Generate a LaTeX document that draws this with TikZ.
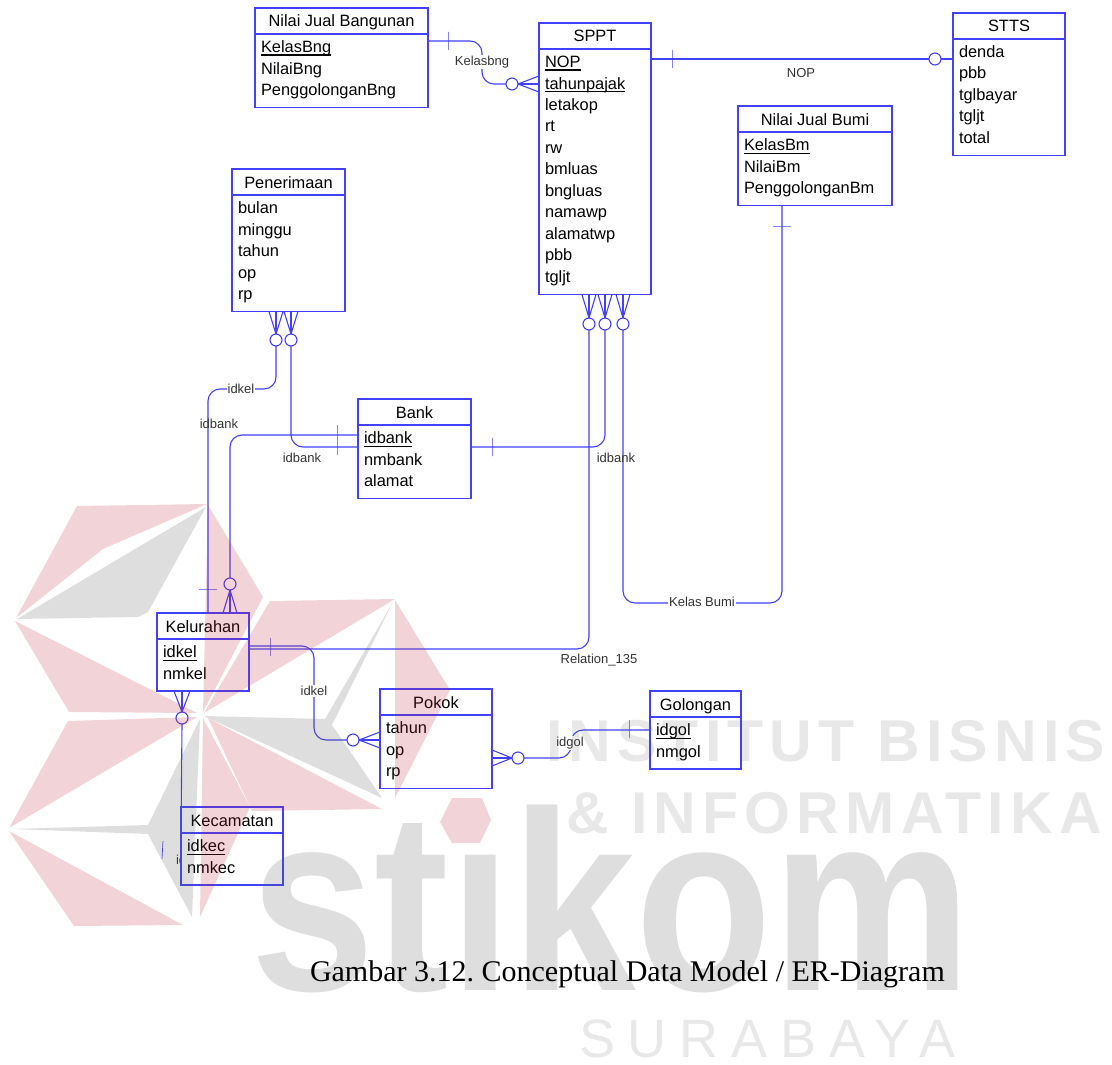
\documentclass[tikz,border=0pt]{standalone}
\usepackage{fontspec}
\setmainfont{Liberation Sans}
\newfontfamily\capfont{Liberation Serif}
\newfontfamily\wmbold[LetterSpace=10.5]{Liberation Sans Bold}
\newfontfamily\wmthin[LetterSpace=24]{Liberation Sans}
\newfontfamily\wmlogo{Liberation Sans Bold}
\newcommand{\keyattr}[1]{\leavevmode\setbox0=\hbox{#1}\rlap{\rule[-3.4pt]{\wd0}{1.4pt}}\box0 }
\usetikzlibrary{positioning}
\definecolor{erblue}{RGB}{65,65,250}
\definecolor{wmred}{RGB}{190,40,60}
\definecolor{wmgray}{RGB}{90,90,90}

\begin{document}
\begin{tikzpicture}[x=1pt, y=-1pt,
  every node/.style={font=\fontsize{16.4}{21.5}\selectfont, outer sep=0pt},
  ent/.style={draw=erblue, fill=white, line width=1.1pt, rectangle, anchor=north west,
              align=left, inner xsep=6pt, inner ysep=4pt,
              execute at begin node={\rule{0pt}{14.5pt}},
              execute at end node={\rule[-8pt]{0pt}{8pt}}},
  enthead/.style={draw=erblue, fill=white, line width=1.1pt, rectangle, minimum height=26pt,
                  inner sep=0pt, text height=13.5pt, text depth=1.5pt},
  rel/.style={draw=erblue, line width=1.1pt, rounded corners=12pt},
  crowf/.style={draw=erblue, line width=1.1pt},
  opt/.style={draw=erblue, fill=white, line width=1.1pt, circle, minimum size=12pt, inner sep=0pt},
  tickv/.style={draw=erblue, line width=.7pt, minimum width=0pt, minimum height=18pt, inner sep=0pt},
  tickh/.style={draw=erblue, line width=.7pt, minimum width=18pt, minimum height=0pt, inner sep=0pt},
  lab/.style={font=\fontsize{13}{15}\selectfont, text=black!80, inner sep=1pt},
  labw/.style={lab, fill=white}]
\useasboundingbox (0,0) rectangle (1112,1065);

%% --- Relationship markers ---
\node[opt] (OJB)  at (512,84)  {};
\node[opt] (OST)  at (935,59)  {};
\node[opt] (OKL)  at (589,324) {};
\node[opt] (OBK)  at (605,324) {};
\node[opt] (OBM)  at (623,324) {};
\node[opt] (OPK)  at (276,340) {};
\node[opt] (OPB)  at (291,340) {};
\node[opt] (OKB)  at (230,584) {};
\node[opt] (OKK)  at (182,718) {};
\node[opt] (OPO)  at (353,740) {};
\node[opt] (OGO)  at (518,758) {};

%% --- Entities ---
\node[ent, text width=161pt] (NJBG) at (255,34) {\keyattr{KelasBng}\\NilaiBng\\PenggolonganBng};
\node[enthead, minimum width=173pt, above=0pt of NJBG] (NJBGt) {Nilai Jual Bangunan};
\node[ent, text width=100pt] (SPPT) at (539,49) {\keyattr{NOP}\\\keyattr{tahunpajak}\\letakop\\rt\\rw\\bmluas\\bngluas\\namawp\\alamatwp\\pbb\\tgljt};
\node[enthead, minimum width=112pt, above=0pt of SPPT] (SPPTt) {SPPT};
\node[ent, text width=100pt] (STTS) at (953,39) {denda\\pbb\\tglbayar\\tgljt\\total};
\node[enthead, minimum width=112pt, above=0pt of STTS] (STTSt) {STTS};
\node[ent, text width=142pt] (NJBM) at (738,132) {\keyattr{KelasBm}\\NilaiBm\\PenggolonganBm};
\node[enthead, minimum width=154pt, above=0pt of NJBM] (NJBMt) {Nilai Jual Bumi};
\node[ent, text width=101pt] (PENR) at (232,195) {bulan\\minggu\\tahun\\op\\rp};
\node[enthead, minimum width=113pt, above=0pt of PENR] (PENRt) {Penerimaan};
\node[ent, text width=101pt] (BANK) at (358,425) {\keyattr{idbank}\\nmbank\\alamat};
\node[enthead, minimum width=113pt, above=0pt of BANK] (BANKt) {Bank};
\node[ent, text width=80pt] (KELR) at (157,639) {\keyattr{idkel}\\nmkel};
\node[enthead, minimum width=92pt, above=0pt of KELR] (KELRt) {Kelurahan};
\node[ent, text width=100pt] (POKK) at (380,715) {tahun\\op\\rp};
\node[enthead, minimum width=112pt, above=0pt of POKK] (POKKt) {Pokok};
\node[ent, text width=79pt] (GOLN) at (650,717) {\keyattr{idgol}\\nmgol};
\node[enthead, minimum width=91pt, above=0pt of GOLN] (GOLNt) {Golongan};

%% --- Arrows: top row ---
\draw[rel] (NJBG.east |- 0,41) -- (482,41) -- (482,84) -- (OJB.west);
\foreach \d in {-8,0,8} \draw[crowf] (OJB.east) -- (SPPT.west |- 0,84+\d);
\draw[rel] (SPPT.east |- 0,59) -- (OST.west);
\draw[crowf] (OST.east) -- (STTS.west |- 0,59);
\node[tickv] (TJB) at (448,41)  {};
\node[tickv] (TSP) at (672,59)  {};
\node[labw]  (LJB) at (482,62)  {Kelasbng};
\node[lab]   (LST) at (801,73)  {NOP};

%% --- Arrows: from SPPT down ---
\foreach \d in {-7,0,7} {
  \draw[crowf] (OKL.north) -- (SPPT.south -| 589+\d,0);
  \draw[crowf] (OBK.north) -- (SPPT.south -| 605+\d,0);
  \draw[crowf] (OBM.north) -- (SPPT.south -| 623+\d,0);
}
\draw[rel] (NJBM.south -| 782,0) -- (782,603) -- (OBM.south |- 0,603) -- (OBM.south);
\draw[rel] (BANK.east |- 0,447) -- (OBK.south |- 0,447) -- (OBK.south);
\draw[rel] (KELR.east |- 0,649) -- (OKL.south |- 0,649) -- (OKL.south);
\node[tickh] (TBM) at (782,226) {};
\node[tickv] (TBK) at (492,447) {};
\node[labw]  (LBM) at (702,602) {Kelas Bumi};
\node[lab]   (LBK) at (616,458) {idbank};
\node[lab]   (LRL) at (599,660) {Relation\_135};

%% --- Arrows: Penerimaan, Bank, Kelurahan ---
\foreach \d in {-7,0,7} {
  \draw[crowf] (OPK.north) -- (PENR.south -| 276+\d,0);
  \draw[crowf] (OPB.north) -- (PENR.south -| 291+\d,0);
  \draw[crowf] (OKB.south) -- (KELRt.north -| 230+\d,0);
}
\draw[rel] (OPK.south) -- (OPK.south |- 0,389) -- (208,389) -- (KELRt.north -| 208,0);
\draw[rel] (OPB.south) -- (OPB.south |- 0,447) -- (BANK.west |- 0,447);
\draw[rel] (BANK.west |- 0,435) -- (230,435) -- (OKB.north);
\node[tickh] (TKL) at (208,589) {};
\node[tickv, minimum height=30pt] (TBN) at (337,440) {};
\node[labw]  (LPK) at (241,389) {idkel};
\node[lab]   (LPB) at (219,424) {idbank};
\node[lab]   (LPN) at (302,458) {idbank};

%% --- Arrows: Kelurahan, Pokok, Golongan, Kecamatan ---
\foreach \d in {-8,0,8} {
  \draw[crowf] (OKK.north) -- (KELR.south -| 182+\d,0);
  \draw[crowf] (OPO.east) -- (POKK.west |- 0,740+\d);
  \draw[crowf] (OGO.west) -- (POKK.east |- 0,758+\d);
}
\draw[rel] (KELR.east |- 0,646) -- (314,646) -- (314,740) -- (OPO.west);
\draw[rel] (OGO.east) -- (571,758) -- (571,730) -- (GOLN.west |- 0,730);
\draw[crowf] (OKK.south) -- (181,842);
\node[tickv] (TKE) at (270,647) {};
\node[tickv] (TGO) at (629,729) {};
\node[tickv, rotate=-3] (TKC) at (162.5,850) {};
\node[labw]  (LKP) at (314,691) {idkel};
\node[labw]  (LGO) at (570,743) {idgol};
\node[lab, anchor=west] (LKC) at (175,860) {idkec};
\node[ent, text width=90pt] (KECM) at (181,833) {\keyattr{idkec}\\nmkec};
\node[enthead, minimum width=102pt, above=0pt of KECM] (KECMt) {Kecamatan};

%% --- Watermark ---
\begin{scope}[fill opacity=.2, text opacity=.14]
  \fill[wmred]  (77,506) -- (207,504) -- (103,549) -- (16,618) -- cycle;
  \fill[wmred]  (15,621) -- (69,712) -- (197,713) -- cycle;
  \fill[wmred]  (208,505) -- (263,597) -- (203,712) -- cycle;
  \fill[wmred]  (270,601) -- (395,599) -- (204,713) -- cycle;
  \fill[wmred]  (395,600) -- (450,690) -- (395,798) -- cycle;
  \fill[wmred]  (208,718) -- (382,809) -- (252,811) -- cycle;
  \fill[wmred]  (203,718) -- (250,807) -- (200,917) -- cycle;
  \fill[wmred]  (197,717) -- (68,721) -- (9,828) -- cycle;
  \fill[wmred]  (9,831) -- (183,925) -- (74,926) -- cycle;
  \fill[wmred]  (452,798) -- (482,798) -- (491,820) -- (480,843) -- (452,843) -- (440,822) -- cycle;
  \fill[wmgray] (17,619) -- (206,507) -- (148,612) -- (138,617) -- cycle;
  \fill[wmgray] (204,716) -- (325,719) -- (393,602) -- (332,725) -- (382,798) -- cycle;
  \fill[wmgray] (200,719) -- (148,825) -- (12,829) -- (148,834) -- (192,917) -- cycle;
  \node[text=wmgray, text opacity=.2, font=\fontsize{256}{256}\wmlogo, anchor=base west,
        xscale=.875, transform shape, inner sep=0pt] (WLOGO) at (250,990) {stıkom};
  \node[text=wmgray, font=\fontsize{59}{60}\wmbold, anchor=base west, inner sep=0pt] (WINST) at (546,761) {INSTITUT BISNIS};
  \node[text=wmgray, font=\fontsize{59}{60}\wmbold, anchor=base west, inner sep=0pt] (WINFO) at (566,833) {\& INFORMATIKA};
  \node[text=wmgray, font=\fontsize{54}{56}\wmthin, anchor=base west, inner sep=0pt, text depth=0pt] (WSURB) at (579,1057) {SURABAYA};
\end{scope}

%% --- Caption ---
\node[font=\fontsize{30}{32}\capfont\frenchspacing, anchor=base west, inner sep=0pt] (CAPT) at (310,981) {Gambar 3.12. Conceptual Data Model / ER-Diagram};
\end{tikzpicture}
\end{document}
